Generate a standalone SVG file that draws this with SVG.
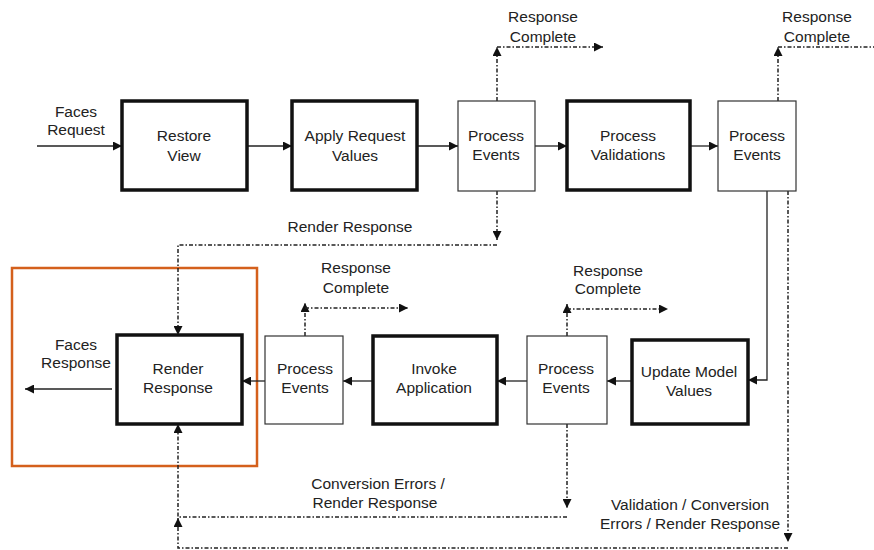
<svg xmlns="http://www.w3.org/2000/svg" width="874" height="550" viewBox="0 0 874 550">
<defs>
<marker id="ah" viewBox="0 0 10 10" refX="10" refY="5" markerWidth="9" markerHeight="9" markerUnits="userSpaceOnUse" orient="auto"><path d="M0,0 L10,5 L0,10 z" fill="#111"/></marker>
<style>
text{font-family:"Liberation Sans",Arial,sans-serif;font-size:15.5px;fill:#222;text-anchor:middle}
.thick{fill:#fff;stroke:#111;stroke-width:3.5}
.thin{fill:#fff;stroke:#333;stroke-width:1.2}
.s{fill:none;stroke:#222;stroke-width:1.3}
.d{fill:none;stroke:#222;stroke-width:1.5;stroke-dasharray:4 2 1.5 2}
</style>
</defs>
<rect x="12" y="268" width="245" height="198" fill="none" stroke="#d4601c" stroke-width="2.5"/>
<g id="connectors">
<path class="s" d="M37,146 H122" marker-end="url(#ah)"/>
<path class="s" d="M247,146 H292" marker-end="url(#ah)"/>
<path class="s" d="M417,146 H458" marker-end="url(#ah)"/>
<path class="s" d="M535,146 H567" marker-end="url(#ah)"/>
<path class="s" d="M690,146 H718" marker-end="url(#ah)"/>
<path class="d" d="M497,101 V47" marker-end="url(#ah)"/>
<path class="d" d="M497,47 H603" marker-end="url(#ah)"/>
<path class="d" d="M778,101 V47" marker-end="url(#ah)"/>
<path class="d" d="M778,47 H874"/>
<path class="d" d="M497,191 V240" marker-end="url(#ah)"/>
<path class="d" d="M497,245 H178 V335" marker-end="url(#ah)"/>
<path class="s" d="M767,191 V380 H748" marker-end="url(#ah)"/>
<path class="d" d="M788,191 V542" marker-end="url(#ah)"/>
<path class="d" d="M788,548 H178 V518" marker-end="url(#ah)"/>
<path class="d" d="M567,424 V508" marker-end="url(#ah)"/>
<path class="d" d="M567,517 H178 V424" marker-end="url(#ah)"/>
<path class="s" d="M632,381 H607" marker-end="url(#ah)"/>
<path class="s" d="M527,381 H497" marker-end="url(#ah)"/>
<path class="s" d="M373,381 H343" marker-end="url(#ah)"/>
<path class="s" d="M265,381 H242" marker-end="url(#ah)"/>
<path class="s" d="M112,389 H25" marker-end="url(#ah)"/>
<path class="d" d="M305,336 V303" marker-end="url(#ah)"/>
<path class="d" d="M305,308 H408" marker-end="url(#ah)"/>
<path class="d" d="M567,336 V304" marker-end="url(#ah)"/>
<path class="d" d="M567,309 H668" marker-end="url(#ah)"/>
</g>
<g id="restore-view"><rect class="thick" x="122" y="101" width="125" height="89"/><text x="184" y="141">Restore</text><text x="184" y="161">View</text></g>
<g id="apply-request-values"><rect class="thick" x="292" y="101" width="125" height="89"/><text x="355" y="141">Apply Request</text><text x="355" y="161">Values</text></g>
<g id="process-events-1"><rect class="thin" x="458" y="101" width="77" height="90"/><text x="496" y="141">Process</text><text x="496" y="160">Events</text></g>
<g id="process-validations"><rect class="thick" x="567" y="101" width="123" height="89"/><text x="628" y="141">Process</text><text x="628" y="160">Validations</text></g>
<g id="process-events-2"><rect class="thin" x="718" y="101" width="78" height="90"/><text x="757" y="141">Process</text><text x="757" y="160">Events</text></g>
<g id="render-response"><rect class="thick" x="117" y="335" width="125" height="89"/><text x="178" y="374">Render</text><text x="178" y="393">Response</text></g>
<g id="process-events-3"><rect class="thin" x="265" y="336" width="78" height="88"/><text x="305" y="374">Process</text><text x="305" y="393">Events</text></g>
<g id="invoke-application"><rect class="thick" x="373" y="336" width="124" height="88"/><text x="434" y="374">Invoke</text><text x="434" y="393">Application</text></g>
<g id="process-events-4"><rect class="thin" x="527" y="336" width="80" height="88"/><text x="566" y="374">Process</text><text x="566" y="393">Events</text></g>
<g id="update-model-values"><rect class="thick" x="632" y="340" width="116" height="84"/><text x="689" y="377">Update Model</text><text x="689" y="396">Values</text></g>
<g id="labels">
<text x="76" y="117">Faces</text><text x="76" y="135">Request</text>
<text x="76" y="350">Faces</text><text x="76" y="368">Response</text>
<text x="543" y="22">Response</text><text x="543" y="42">Complete</text>
<text x="817" y="22">Response</text><text x="817" y="42">Complete</text>
<text x="350" y="232">Render Response</text>
<text x="356" y="273">Response</text><text x="356" y="293">Complete</text>
<text x="608" y="276">Response</text><text x="608" y="294">Complete</text>
<text x="378" y="489">Conversion Errors /</text><text x="375" y="508">Render Response</text>
<text x="690" y="510">Validation / Conversion</text><text x="690" y="529">Errors / Render Response</text>
</g>
</svg>
